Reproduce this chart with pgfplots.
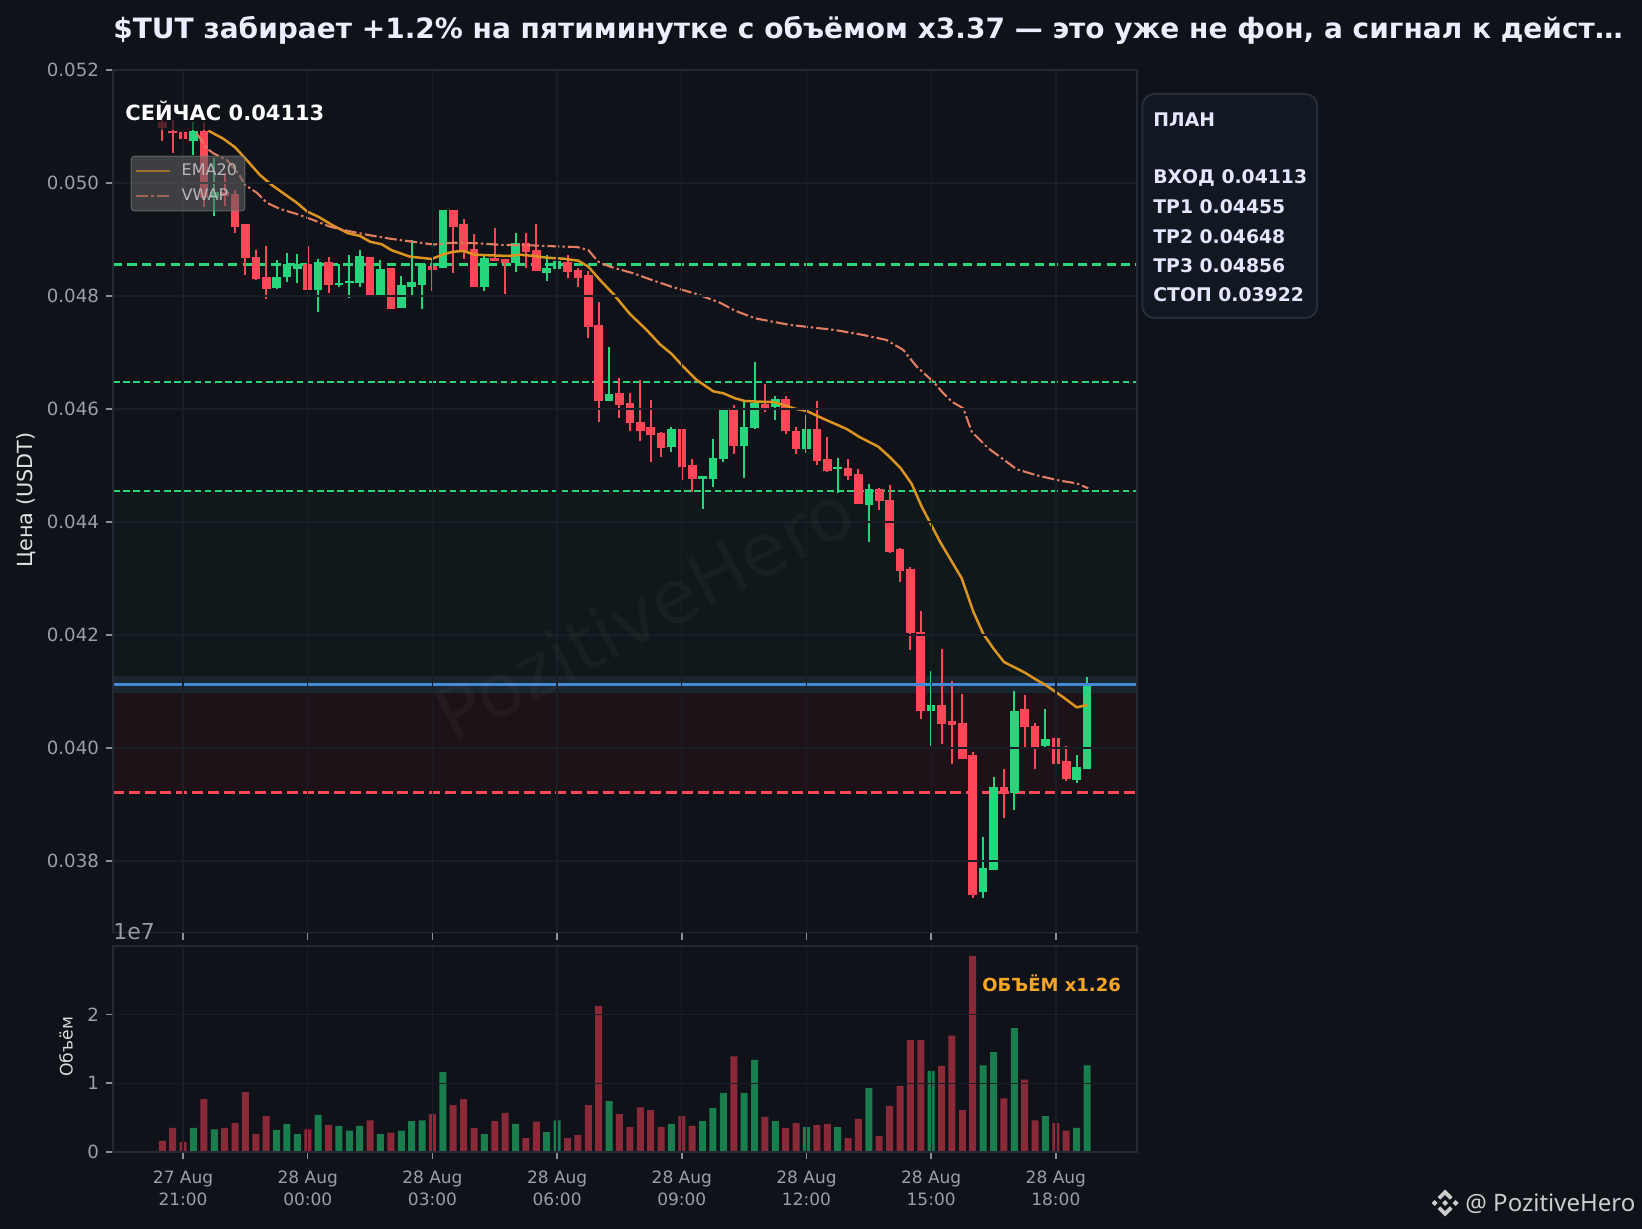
\documentclass[border=0pt]{standalone}
\usepackage{pgfplots}
\usepackage{pgfplotstable}
\usepackage{fontspec}
\pgfplotsset{compat=1.18}
\setmainfont{DejaVu Sans}
\newfontfamily\wmfont{Noto Sans}
\definecolor{bg}{HTML}{0F1218}
\definecolor{spine}{HTML}{232A35}
\definecolor{gridc}{HTML}{191D25}
\definecolor{tickc}{HTML}{8A8F98}
\definecolor{labc}{HTML}{9AA0A8}
\definecolor{cr}{HTML}{FF4757}
\definecolor{cg}{HTML}{26D67C}
\definecolor{vr}{HTML}{8A2A38}
\definecolor{vg}{HTML}{1A7D4E}
\definecolor{ema}{HTML}{DD941E}
\definecolor{vwap}{HTML}{E27D62}
\definecolor{entry}{HTML}{4488D8}
\definecolor{zgreen}{HTML}{0F191B}
\definecolor{zred}{HTML}{1D1218}
\definecolor{zband}{HTML}{1A2530}
\definecolor{tline}{HTML}{29D67A}
\definecolor{sline}{HTML}{FF4757}
\definecolor{panelf}{HTML}{111821}
\definecolor{paneld}{HTML}{262E3A}
\definecolor{volt}{HTML}{F5A623}

% columns: candle index, top of body, bottom of body, high, low
\pgfplotstableread{
i top bot hi lo
0 0.051080 0.050973 0.051133 0.050743
1 0.050926 0.050880 0.051115 0.050536
2 0.050908 0.050773 0.051115 0.050602
4 0.050926 0.049734 0.051085 0.049580
6 0.049846 0.049770 0.050177 0.049598
7 0.049800 0.049226 0.049876 0.049115
8 0.049274 0.048678 0.049274 0.048372
9 0.048685 0.048306 0.048814 0.048283
10 0.048331 0.048129 0.048885 0.047952
14 0.048566 0.048112 0.048885 0.048112
16 0.048602 0.048200 0.048696 0.048058
20 0.048685 0.048012 0.048685 0.048012
22 0.048490 0.047765 0.048490 0.047765
26 0.048536 0.048465 0.048637 0.048088
28 0.049517 0.049226 0.049522 0.048412
29 0.049269 0.048802 0.049357 0.048660
30 0.048826 0.048165 0.049097 0.048165
32 0.048673 0.048620 0.049198 0.048620
33 0.048650 0.048579 0.048655 0.048035
35 0.048933 0.048784 0.049110 0.048501
36 0.048809 0.048437 0.049269 0.048437
39 0.048607 0.048430 0.048720 0.048318
40 0.048455 0.048324 0.048496 0.048159
41 0.048366 0.047457 0.048437 0.047257
42 0.047481 0.046147 0.047894 0.045770
44 0.046278 0.046076 0.046543 0.045841
45 0.046101 0.045758 0.046278 0.045611
46 0.045764 0.045616 0.046513 0.045439
47 0.045676 0.045545 0.046159 0.045067
48 0.045570 0.045315 0.045588 0.045156
50 0.045641 0.044979 0.045646 0.044743
51 0.045004 0.044766 0.045110 0.044536
55 0.045977 0.045350 0.046071 0.045203
58 0.046088 0.046023 0.046442 0.045952
60 0.046172 0.045616 0.046230 0.045558
61 0.045616 0.045287 0.045676 0.045209
63 0.045641 0.045085 0.046141 0.045009
64 0.045110 0.044908 0.045499 0.044890
66 0.044950 0.044819 0.045110 0.044743
67 0.044844 0.044313 0.044933 0.044313
69 0.044579 0.044377 0.044596 0.044212
70 0.044384 0.043474 0.044649 0.043457
71 0.043517 0.043138 0.043534 0.042943
72 0.043163 0.042030 0.043200 0.041734
73 0.042058 0.040660 0.042420 0.040519
75 0.040756 0.040430 0.041747 0.040071
76 0.040472 0.040412 0.041186 0.039717
77 0.040437 0.039811 0.040956 0.039811
78 0.039871 0.037393 0.039929 0.037345
81 0.039304 0.039209 0.039623 0.038767
83 0.040685 0.040377 0.040933 0.040023
84 0.040384 0.040023 0.040437 0.039634
86 0.040172 0.039722 0.040230 0.039651
87 0.039764 0.039456 0.040035 0.039416
}\redcandles
\pgfplotstableread{
i top bot hi lo
3 0.050920 0.050749 0.051085 0.050501
5 0.049846 0.049734 0.050443 0.049421
11 0.048342 0.048141 0.048637 0.048124
12 0.048561 0.048331 0.048756 0.048253
13 0.048561 0.048483 0.048743 0.048235
15 0.048602 0.048112 0.048650 0.047722
17 0.048225 0.048189 0.048566 0.048165
18 0.048260 0.048225 0.048726 0.047970
19 0.048703 0.048235 0.048814 0.048165
21 0.048472 0.048012 0.048637 0.048012
23 0.048189 0.047782 0.048354 0.047782
24 0.048242 0.048165 0.048991 0.048018
25 0.048561 0.048200 0.048579 0.047770
27 0.049517 0.048490 0.049517 0.048490
31 0.048667 0.048165 0.048708 0.048088
34 0.048933 0.048579 0.049110 0.048425
37 0.048496 0.048412 0.048720 0.048266
38 0.048614 0.048472 0.049021 0.048324
43 0.046260 0.046147 0.047092 0.046147
49 0.045641 0.045333 0.045681 0.045244
52 0.044809 0.044766 0.044809 0.044230
53 0.045127 0.044766 0.045464 0.044620
54 0.045977 0.045110 0.045977 0.045062
56 0.045676 0.045350 0.046129 0.044784
57 0.046112 0.045669 0.046827 0.045651
59 0.046182 0.046041 0.046230 0.045805
62 0.045641 0.045287 0.045894 0.045227
65 0.044968 0.044933 0.045127 0.044518
68 0.044579 0.044306 0.044667 0.043651
74 0.040756 0.040660 0.041363 0.040035
79 0.037876 0.037451 0.038419 0.037345
80 0.039304 0.037846 0.039492 0.037846
82 0.040650 0.039209 0.041009 0.038903
85 0.040154 0.040041 0.040685 0.040006
88 0.039659 0.039439 0.039871 0.039386
89 0.041130 0.039634 0.041251 0.039634
}\greencandles
\pgfplotstableread{
x y
4.43 0.050926
5.87 0.050784
7.00 0.050632
8.12 0.050407
9.40 0.050141
10.53 0.049965
11.65 0.049818
12.94 0.049651
13.96 0.049492
15.01 0.049404
16.46 0.049244
17.90 0.049110
19.03 0.049062
19.99 0.048961
21.12 0.048915
22.08 0.048809
23.84 0.048696
25.93 0.048655
27.04 0.048738
28.01 0.048784
28.97 0.048796
30.10 0.048731
31.54 0.048720
33.30 0.048708
34.43 0.048731
35.71 0.048708
37.00 0.048678
38.59 0.048660
40.04 0.048625
41.00 0.048519
42.13 0.048283
43.41 0.048035
45.01 0.047681
46.62 0.047398
47.90 0.047145
49.03 0.046973
50.14 0.046748
51.43 0.046513
53.03 0.046313
53.99 0.046278
55.12 0.046189
56.08 0.046141
57.53 0.046129
58.81 0.046124
59.77 0.046071
60.90 0.046005
62.02 0.045965
63.62 0.045828
65.87 0.045646
67.15 0.045499
68.91 0.045333
70.04 0.045145
71.00 0.044968
72.13 0.044673
73.09 0.044271
74.85 0.043651
76.94 0.043003
78.06 0.042412
79.02 0.042018
79.98 0.041765
81.01 0.041522
83.03 0.041333
84.16 0.041203
85.12 0.041103
86.72 0.040897
88.01 0.040720
89.03 0.040761
}\emadata
\pgfplotstableread{
x y
3.31 0.050880
4.27 0.050614
4.91 0.050526
6.20 0.050407
7.31 0.050172
7.96 0.049965
9.09 0.049828
10.05 0.049651
11.33 0.049540
12.94 0.049451
14.53 0.049345
16.14 0.049226
17.75 0.049156
19.67 0.049085
21.92 0.049014
24.80 0.048943
26.08 0.048911
28.01 0.048943
30.26 0.048933
32.82 0.048903
35.39 0.048897
37.63 0.048880
39.88 0.048867
41.00 0.048814
41.48 0.048708
41.96 0.048607
43.09 0.048519
45.33 0.048402
46.94 0.048295
49.18 0.048154
51.43 0.048035
53.68 0.047881
55.12 0.047740
57.05 0.047605
60.42 0.047487
64.75 0.047398
67.47 0.047310
69.72 0.047221
71.32 0.047044
72.61 0.046749
74.21 0.046483
75.17 0.046278
75.98 0.046129
77.09 0.046012
77.90 0.045598
79.50 0.045304
80.94 0.045110
82.23 0.044933
84.16 0.044826
86.40 0.044731
88.00 0.044685
89.12 0.044596
}\vwapdata
\pgfplotstableread{
i v
0 0.16
1 0.35
2 0.145
4 0.77
6 0.35
7 0.42
8 0.87
9 0.26
10 0.52
14 0.33
16 0.39
20 0.46
22 0.28
26 0.55
28 0.68
29 0.77
30 0.35
32 0.45
33 0.57
35 0.20
36 0.44
39 0.20
40 0.25
41 0.68
42 2.12
44 0.55
45 0.36
46 0.65
47 0.61
48 0.36
50 0.52
51 0.38
55 1.39
58 0.51
60 0.35
61 0.42
63 0.39
64 0.41
66 0.20
67 0.48
69 0.23
70 0.67
71 0.96
72 1.63
73 1.63
75 1.25
76 1.69
77 0.61
78 2.85
81 0.78
83 1.05
84 0.46
86 0.42
87 0.31
}\redvol
\pgfplotstableread{
i v
3 0.35
5 0.33
11 0.32
12 0.41
13 0.26
15 0.54
17 0.38
18 0.31
19 0.38
21 0.26
23 0.31
24 0.45
25 0.46
27 1.16
31 0.26
34 0.41
37 0.29
38 0.46
43 0.74
49 0.41
52 0.45
53 0.64
54 0.86
56 0.86
57 1.34
59 0.45
62 0.36
65 0.36
68 0.93
74 1.18
79 1.26
80 1.45
82 1.80
85 0.52
88 0.35
89 1.26
}\greenvol

\pgfplotsset{
  chart/.style={
    scale only axis, anchor=south west, axis on top,
    xmin=-4.745, xmax=93.81,
    xtick={2,14,26,38,50,62,74,86},
    grid=major,
    grid style={draw=gridc, line width=0.65pt},
    axis line style={draw=spine, line width=0.8pt},
    tick align=outside, xtick pos=lower, ytick pos=left,
    major tick length=3.5pt,
    scaled y ticks=false,
    tick style={draw=tickc, line width=0.7pt},
    tick label style={text=labc, font=\fontsize{8.5}{11}\selectfont},
    yticklabel style={font=\fontsize{9.1}{11}\selectfont},
    clip=true,
  },
}

\begin{document}
\begin{tikzpicture}
\useasboundingbox (0,0) rectangle (821pt,614.5pt);
\fill[bg] (0,0) rectangle (821pt,614.5pt);

\begin{axis}[chart,
  at={(56.5pt,148.15pt)}, width=512pt, height=431.35pt,
  ymin=0.036731, ymax=0.052,
  ytick={0.038,0.040,0.042,0.044,0.046,0.048,0.050,0.052},
  yticklabels={0.038,0.040,0.042,0.044,0.046,0.048,0.050,0.052},
  xticklabels={},
  ylabel={Цена (USDT)},
  ylabel style={at={(axis description cs:-0.085,0.5016)},anchor=center,text=black!12,font=\fontsize{10.4}{12}\selectfont},
  legend style={at={(0.0173,0.9006)},anchor=north west,fill=black!63,fill opacity=.6,
    draw=white!50!black,draw opacity=.6,text opacity=1,rounded corners=1.5pt,
    font=\fontsize{8}{9.5}\selectfont,text=white!72!black,
    inner xsep=2pt,inner ysep=1.6pt,row sep=1.4pt,line width=.5pt},
  legend cell align=left,
  legend image code/.code={\draw[#1] (0pt,0pt) -- (17pt,0pt); \path (20pt,0pt);},
]
% zones
\addplot[forget plot,draw=none,fill=zgreen] coordinates {(-6,0.04455)(95,0.04455)(95,0.04113)(-6,0.04113)} --cycle;
\addplot[forget plot,draw=none,fill=zred] coordinates {(-6,0.04113)(95,0.04113)(95,0.03922)(-6,0.03922)} --cycle;
\addplot[forget plot,draw=none,fill=zband] coordinates {(-6,0.04128)(95,0.04128)(95,0.04098)(-6,0.04098)} --cycle;
% levels
\addplot[forget plot,tline,line width=1.6pt,dash pattern=on 4.6pt off 2.6pt] coordinates {(-4.745,0.04856)(93.81,0.04856)};
\addplot[forget plot,tline,line width=1.35pt,dash pattern=on 3.3pt off 1.8pt] coordinates {(-4.745,0.04648)(93.81,0.04648)};
\addplot[forget plot,tline,line width=1.35pt,dash pattern=on 3.3pt off 1.8pt] coordinates {(-4.745,0.04455)(93.81,0.04455)};
\addplot[forget plot,sline,line width=1.5pt,dash pattern=on 5.5pt off 2.4pt] coordinates {(-4.745,0.03922)(93.81,0.03922)};
% candles
\addplot[forget plot,draw=cr,line width=1pt,quiver={u=0,v=\thisrow{hi}-\thisrow{lo}}] table[x=i,y=lo]{\redcandles};
\addplot[forget plot,draw=cr,line width=4.3pt,quiver={u=0,v=\thisrow{top}-\thisrow{bot}}] table[x=i,y=bot]{\redcandles};
\addplot[forget plot,draw=cg,line width=1pt,quiver={u=0,v=\thisrow{hi}-\thisrow{lo}}] table[x=i,y=lo]{\greencandles};
\addplot[forget plot,draw=cg,line width=4.3pt,quiver={u=0,v=\thisrow{top}-\thisrow{bot}}] table[x=i,y=bot]{\greencandles};
% entry
\addplot[forget plot,entry,line width=1.5pt] coordinates {(-4.745,0.04113)(93.81,0.04113)};
% indicators
\addplot[ema,line width=1.25pt,line join=round] table[x=x,y=y]{\emadata};
\addlegendentry{EMA20}
\addplot[vwap,line width=1.05pt,line join=round,dash pattern=on 6pt off 1.5pt on 1.2pt off 1.5pt] table[x=x,y=y]{\vwapdata};
\addlegendentry{VWAP}
\end{axis}

\begin{axis}[chart,
  at={(56.5pt,38.5pt)}, width=512pt, height=103pt,
  ymin=0, ymax=2.994,
  ytick={0,1,2}, yticklabels={0,1,2},
  xticklabels={{27 Aug\\21:00},{28 Aug\\00:00},{28 Aug\\03:00},{28 Aug\\06:00},{28 Aug\\09:00},{28 Aug\\12:00},{28 Aug\\15:00},{28 Aug\\18:00}},
  xticklabel style={align=center,yshift=-2.6pt},
  ylabel={Объём},
  ylabel style={at={(axis description cs:-0.0459,0.51)},anchor=center,text=black!15,font=\fontsize{8.6}{11}\selectfont},
  ybar, bar width=3.5pt, bar shift=0pt,
]
\addplot[draw=none,fill=vr] table[x=i,y=v]{\redvol};
\addplot[draw=none,fill=vg] table[x=i,y=v]{\greenvol};
\end{axis}

% texts
\node[anchor=base west,inner sep=0,text=white!93!blue,font=\fontsize{14}{16}\bfseries\selectfont] at (56.5pt,595pt)
  {\$TUT забирает +1.2\% на пятиминутке с объёмом x3.37 — это уже не фон, а сигнал к дейст…};
\fill[bg,opacity=.7] (78pt,549.25pt) rectangle (108pt,557pt);
\node[anchor=base west,inner sep=0,text=white,font=\fontsize{10.5}{12}\bfseries\selectfont] at (62.5pt,554pt) {СЕЙЧАС 0.04113};
\node[anchor=base west,inner sep=0,text=tickc!90!white,font=\fontsize{11}{13}\selectfont] at (56.5pt,144.7pt) {1e7};
\node[anchor=base west,inner sep=0,text=volt,font=\fontsize{9}{11}\bfseries\selectfont] at (491pt,118.5pt) {ОБЪЁМ x1.26};

% plan panel
\draw[rounded corners=6pt,fill=panelf,draw=paneld,line width=1pt] (571.2pt,455.5pt) rectangle (658.6pt,567.5pt);
\begin{scope}[every node/.style={anchor=base west,inner sep=0,text=white!90!blue,font=\fontsize{9.4}{11}\bfseries\selectfont}]
\node at (576.5pt,551.1pt) {ПЛАН};
\node at (576.5pt,522.6pt) {ВХОД 0.04113};
\node at (576.5pt,507.6pt) {TP1 0.04455};
\node at (576.5pt,492.9pt) {TP2 0.04648};
\node at (576.5pt,478.2pt) {TP3 0.04856};
\node at (576.5pt,463.7pt) {СТОП 0.03922};
\end{scope}

% watermarks
\node[rotate=28,opacity=.03,text=white,font=\fontsize{37}{37}\selectfont] at (322pt,308.5pt) {PozitiveHero};
\begin{scope}[shift={(722.5pt,13pt)},x=.5pt,y=.5pt,fill=white!80!black]
\fill (0,13.5)--(7.5,6)--(4.8,3.3)--(0,8.2)--(-4.8,3.3)--(-7.5,6)--cycle;
\fill (0,-13.5)--(7.5,-6)--(4.8,-3.3)--(0,-8.2)--(-4.8,-3.3)--(-7.5,-6)--cycle;
\fill (0,3)--(3,0)--(0,-3)--(-3,0)--cycle;
\fill (-13.5,0)--(-10.5,3)--(-7.5,0)--(-10.5,-3)--cycle;
\fill (13.5,0)--(10.5,3)--(7.5,0)--(10.5,-3)--cycle;
\end{scope}
\node[anchor=base west,inner sep=0,text=white!80!black,font=\wmfont\fontsize{12}{14}\selectfont] at (732.5pt,8.5pt) {@ PozitiveHero};
\end{tikzpicture}
\end{document}
